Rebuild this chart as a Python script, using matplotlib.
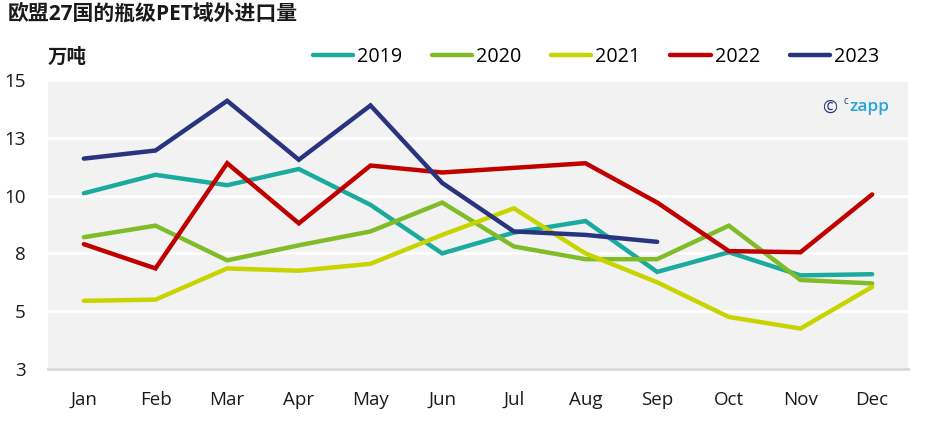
import matplotlib.pyplot as plt
import numpy as np

plt.rcParams['font.family'] = ['Open Sans', 'Noto Sans CJK SC', 'DejaVu Sans']

months = ['Jan', 'Feb', 'Mar', 'Apr', 'May', 'Jun',
          'Jul', 'Aug', 'Sep', 'Oct', 'Nov', 'Dec']
y2019 = [10.1, 10.9, 10.45, 11.15, 9.6, 7.5, 8.4, 8.9, 6.7, 7.55, 6.55, 6.6]
y2020 = [8.2, 8.7, 7.2, 7.85, 8.45, 9.7, 7.8, 7.25, 7.25, 8.7, 6.35, 6.2]
y2021 = [5.45, 5.5, 6.85, 6.75, 7.05, 8.3, 9.45, 7.5, 6.25, 4.75, 4.25, 6.05]
y2022 = [7.9, 6.85, 11.4, 8.8, 11.3, 11.0, 11.2, 11.4, 9.7, 7.6, 7.55, 10.05]
y2023 = [11.6, 11.95, 14.1, 11.55, 13.9, 10.55, 8.45, 8.3, 8.0]

series_labels = ['2019', '2020', '2021', '2022', '2023']
color_lst = ['#1aab9e', '#80bc28', '#c8d400', '#c00000', '#28347f']

yticks = [2.5, 5, 7.5, 10, 12.5, 15]
ytick_labels = ['3', '5', '8', '10', '13', '15']

TICK_SIZE = 13.5
LEGEND_SIZE = 14.2

fig = plt.figure(figsize=(9.3, 4.28), dpi=100)
ax = fig.add_axes([48 / 930, 59 / 428, 860 / 930, 289 / 428])
ax.set_facecolor('#f2f2f2')

x = np.arange(len(months))
for idx, data in enumerate([y2019, y2020, y2021, y2022, y2023]):
    ax.plot(x[:len(data)], data, color=color_lst[idx], lw=3.2,
            label=series_labels[idx], solid_capstyle='round',
            solid_joinstyle='miter', zorder=3)

ax.set_xlim(-0.5, 11.5)
ax.set_ylim(2.5, 15)
ax.set_yticks(yticks)
ax.set_yticklabels(ytick_labels)
ax.set_xticks(x)
ax.set_xticklabels(months)
ax.tick_params(axis='both', length=0, labelsize=TICK_SIZE, colors='#1a1a1a')
ax.tick_params(axis='x', pad=15.5)
ax.tick_params(axis='y', pad=16)
ax.grid(axis='y', color='white', lw=2)
ax.set_axisbelow(True)
for side in ['top', 'right', 'left']:
    ax.spines[side].set_visible(False)
ax.spines['bottom'].set_color('#d9d9d9')
ax.spines['bottom'].set_linewidth(2)

# title and unit
fig.text(8 / 930, 1 - 14 / 428, '欧盟27国的瓶级PET域外进口量', fontsize=15,
         fontweight='bold', va='center', ha='left', color='#1a1a1a')
fig.text(48 / 930, 1 - 58 / 428, '万吨', fontsize=14, fontweight='bold',
         va='center', ha='left', color='#1a1a1a')

# legend
handles, labels = ax.get_legend_handles_labels()
fig.legend(handles, labels, loc='center left', bbox_to_anchor=(295 / 930, 1 - 57 / 428),
           ncol=5, frameon=False, fontsize=LEGEND_SIZE, handlelength=2.05,
           handletextpad=0.2, columnspacing=1.5)

# watermark
ax.text(0.9, 0.905, '©', transform=ax.transAxes, fontsize=13,
        color='#2a3580', va='center', ha='left')
ax.text(0.925, 0.925, 'c', transform=ax.transAxes, fontsize=7,
        color='#2a3580', va='center', ha='left')
ax.text(0.932, 0.905, 'zapp', transform=ax.transAxes, fontsize=12.5,
        color='#29a3dc', va='center', ha='left', fontweight='semibold')

fig.savefig('out.png', dpi=100)
